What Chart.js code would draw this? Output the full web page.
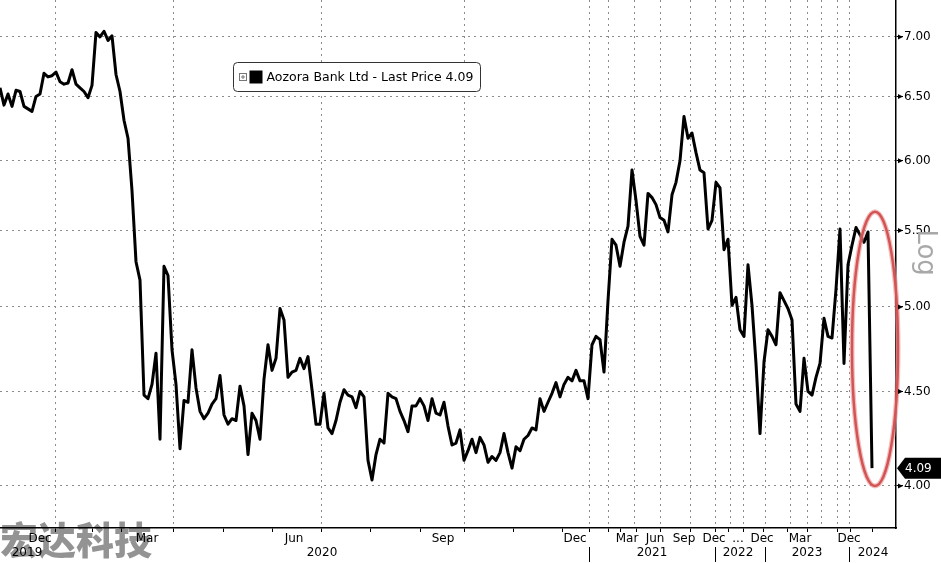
<!DOCTYPE html>
<html>
<head>
<meta charset="utf-8">
<script src="https://cdn.jsdelivr.net/npm/chart.js@4.4.1/dist/chart.umd.min.js"></script>
<style>
  html, body { margin: 0; padding: 0; background: #fff; }
</style>
</head>
<body>
<canvas id="chart" width="941" height="563"></canvas>
<script>
// one value per step of the (compressed) time axis
const prices = [
  6.57, 6.43, 6.52, 6.42, 6.55, 6.54, 6.42, 6.40, 6.38, 6.50,
  6.52, 6.69, 6.66, 6.67, 6.70, 6.62, 6.60, 6.61, 6.72, 6.60,
  6.57, 6.54, 6.49, 6.59, 7.04, 7.00, 7.05, 6.97, 7.01, 6.68,
  6.54, 6.31, 6.17, 5.78, 5.29, 5.17, 4.48, 4.46, 4.54, 4.72,
  4.24, 5.26, 5.20, 4.74, 4.54, 4.19, 4.45, 4.44, 4.74, 4.52,
  4.39, 4.35, 4.38, 4.43, 4.46, 4.59, 4.37, 4.32, 4.35, 4.34,
  4.53, 4.42, 4.16, 4.38, 4.34, 4.24, 4.57, 4.77, 4.62, 4.69,
  4.99, 4.92, 4.58, 4.61, 4.62, 4.69, 4.63, 4.70, 4.51, 4.32,
  4.32, 4.49, 4.30, 4.27, 4.34, 4.44, 4.51, 4.48, 4.47, 4.41,
  4.50, 4.47, 4.13, 4.03, 4.16, 4.24, 4.22, 4.49, 4.47, 4.46,
  4.39, 4.34, 4.28, 4.42, 4.42, 4.46, 4.42, 4.34, 4.46, 4.38,
  4.37, 4.44, 4.31, 4.21, 4.22, 4.29, 4.13, 4.18, 4.24, 4.17,
  4.25, 4.21, 4.12, 4.15, 4.13, 4.17, 4.27, 4.17, 4.09, 4.20,
  4.18, 4.24, 4.26, 4.30, 4.29, 4.46, 4.39, 4.44, 4.49, 4.55,
  4.47, 4.54, 4.58, 4.56, 4.62, 4.56, 4.56, 4.46, 4.77, 4.82,
  4.80, 4.61, 5.04, 5.44, 5.40, 5.26, 5.42, 5.53, 5.93, 5.71,
  5.46, 5.40, 5.76, 5.73, 5.68, 5.59, 5.57, 5.49, 5.75, 5.84,
  6.00, 6.34, 6.17, 6.21, 6.06, 5.93, 5.91, 5.51, 5.57, 5.84,
  5.80, 5.37, 5.44, 5.01, 5.06, 4.86, 4.82, 5.27, 5.01, 4.66,
  4.27, 4.67, 4.86, 4.82, 4.77, 5.09, 5.04, 4.99, 4.92, 4.43,
  4.39, 4.69, 4.50, 4.48, 4.58, 4.66, 4.93, 4.82, 4.81, 5.11,
  5.51, 4.66, 5.27, 5.40, 5.52, 5.47, 5.42, 5.49, 4.09
];

const seriesName = "Aozora Bank Ltd - Last Price";
const lastPrice = prices[prices.length - 1];

const priceTicks = [4.0, 4.5, 5.0, 5.5, 6.0, 6.5, 7.0];

// axis positions are in time-step units
const axisEnd = 224;
const monthLabels = ["Dec", "Mar", "Jun", "Sep", "Dec", "Mar", "Jun", "Sep", "Dec", "...", "Dec", "Mar", "Dec"];
const monthAt = [10, 36.75, 73.5, 110.75, 143.75, 156.75, 163.75, 171, 178.5, 184.5, 190.5, 200, 212.25];
const yearLabels = ["2019", "2020", "2021", "2022", "2023", "2024"];
const yearAt = [6.75, 80.5, 163, 184.5, 201.75, 218.25];
const yearBreaks = [147.25, 178.75, 191.25, 212.25];
const monthTicks = [13.75, 23, 30.5, 43.25, 55.75, 68, 80.25, 92.5, 105, 116, 128.25, 140.5,
  147.25, 152, 155, 159, 165, 172.5, 178.75, 182, 185.75, 190.75, 196.75, 201.75, 209.25, 212.5, 218];
const gridAt = [13.75, 43.25, 80.25, 116, 147.25, 152, 158.5, 165, 172.5, 178.75, 182.5, 185.75,
  191.25, 197.5, 201.75, 205.25, 209.25, 212.25];

// red ring drawn round the last move
const ring = { at: 218.75, halfWidth: 5.75, top: 5.63, bottom: 4.0 };
// where the "Log" note sits on the price axis
const scaleNoteAt = 5.35;

const xMarks = [...new Set([...monthTicks, ...gridAt])].sort((a, b) => a - b);
const yearTicks = yearAt.map((v, i) => ({ value: v, label: yearLabels[i] }))
  .concat(yearBreaks.map((v) => ({ value: v, label: "" })))
  .sort((a, b) => a.value - b.value);

const clear = "rgba(0,0,0,0)";
const gridGray = "#8c8c8c";

const overlay = {
  id: "overlay",
  beforeDraw(chart) {
    const { ctx, width, height } = chart;
    ctx.save();
    ctx.fillStyle = "#fff";
    ctx.fillRect(0, 0, width, height);
    ctx.font = '900 38px "Noto Sans CJK SC"';
    ctx.fillStyle = "rgba(120,120,120,0.8)";
    ctx.textBaseline = "top";
    ctx.fillText("宏达科技", 0, 521);
    ctx.restore();
  },
  afterDatasetsDraw(chart) {
    const { ctx, scales: { x, y } } = chart;
    const cx = x.getPixelForValue(ring.at);
    const rx = x.getPixelForValue(ring.at + ring.halfWidth) - cx;
    const yTop = y.getPixelForValue(ring.top);
    const yBot = y.getPixelForValue(ring.bottom);
    ctx.save();
    ctx.beginPath();
    ctx.ellipse(cx, (yTop + yBot) / 2, rx, (yBot - yTop) / 2, 0, 0, Math.PI * 2);
    ctx.strokeStyle = "rgba(232,150,150,0.6)";
    ctx.lineWidth = 5;
    ctx.stroke();
    ctx.strokeStyle = "rgb(212,84,84)";
    ctx.lineWidth = 2.5;
    ctx.stroke();
    ctx.restore();
  },
  afterDraw(chart) {
    const { ctx, chartArea, scales: { y }, width } = chart;
    ctx.save();

    // arrow heads on the price ticks
    ctx.fillStyle = "#000";
    y.ticks.forEach((t) => {
      const py = y.getPixelForValue(t.value);
      ctx.beginPath();
      ctx.moveTo(chartArea.right + 2, py - 2.5);
      ctx.lineTo(chartArea.right + 7, py);
      ctx.lineTo(chartArea.right + 2, py + 2.5);
      ctx.closePath();
      ctx.fill();
    });

    // last price tag
    const ly = y.getPixelForValue(lastPrice);
    const left = chartArea.right + 1;
    ctx.beginPath();
    ctx.moveTo(left, ly);
    ctx.lineTo(left + 8, ly - 10.5);
    ctx.lineTo(width, ly - 10.5);
    ctx.lineTo(width, ly + 10.5);
    ctx.lineTo(left + 8, ly + 10.5);
    ctx.closePath();
    ctx.fill();
    ctx.fillStyle = "#fff";
    ctx.font = '12px "DejaVu Sans"';
    ctx.textBaseline = "middle";
    ctx.fillText(lastPrice.toFixed(2), chartArea.right + 9, ly + 0.5);

    // scale type note
    ctx.save();
    ctx.translate(chartArea.right + 29, y.getPixelForValue(scaleNoteAt));
    ctx.rotate(Math.PI / 2);
    ctx.fillStyle = "#a8a8a8";
    ctx.font = '26px "DejaVu Sans"';
    ctx.textAlign = "center";
    ctx.textBaseline = "middle";
    ctx.fillText("Log", 0, 0);
    ctx.restore();

    // legend box
    const bx = chartArea.left + 233.5, by = 62.5, bw = 247, bh = 29;
    ctx.beginPath();
    ctx.roundRect(bx, by, bw, bh, 4);
    ctx.fillStyle = "#fff";
    ctx.fill();
    ctx.strokeStyle = "#333";
    ctx.lineWidth = 1;
    ctx.stroke();
    const my = by + bh / 2;
    ctx.strokeStyle = "#777";
    ctx.strokeRect(bx + 6, my - 3.5, 7, 7);
    ctx.beginPath();
    ctx.moveTo(bx + 7.5, my); ctx.lineTo(bx + 11.5, my);
    ctx.moveTo(bx + 9.5, my - 2); ctx.lineTo(bx + 9.5, my + 2);
    ctx.stroke();
    ctx.fillStyle = "#000";
    ctx.fillRect(bx + 16, my - 6.5, 13, 13);
    ctx.font = '12.5px "DejaVu Sans"';
    ctx.textBaseline = "middle";
    ctx.fillText(seriesName + " " + lastPrice.toFixed(2), bx + 33, my + 0.5);

    ctx.restore();
  }
};

new Chart(document.getElementById("chart"), {
  type: "line",
  data: {
    datasets: [{
      label: seriesName,
      data: prices.map((p, i) => ({ x: i, y: p })),
      borderColor: "#000",
      borderWidth: 3,
      borderJoinStyle: "round",
      pointRadius: 0,
      tension: 0,
      xAxisID: "x",
      yAxisID: "y"
    }]
  },
  options: {
    responsive: false,
    animation: false,
    layout: { padding: 0 },
    plugins: { legend: { display: false }, tooltip: { enabled: false } },
    font: { family: "DejaVu Sans" },
    scales: {
      x: {
        type: "linear", position: "bottom", min: 0, max: axisEnd,
        afterBuildTicks: (s) => { s.ticks = xMarks.map((v) => ({ value: v })); },
        afterFit: (s) => { s.height = 4; },
        ticks: { display: false },
        grid: {
          color: (c) => (c.tick && gridAt.includes(c.tick.value) ? gridGray : clear),
          tickColor: (c) => (c.tick && monthTicks.includes(c.tick.value) ? "#000" : clear),
          tickLength: 4,
          lineWidth: 1
        },
        border: { color: "#000", width: 1.5, dash: [2, 4] }
      },
      x2: {
        type: "linear", position: "bottom", min: 0, max: axisEnd,
        afterBuildTicks: (s) => { s.ticks = monthAt.map((v) => ({ value: v })); },
        afterFit: (s) => { s.height = 15; },
        ticks: {
          autoSkip: false, maxRotation: 0, padding: 0, color: "#000",
          font: { family: "DejaVu Sans", size: 12 },
          callback: (v, i) => monthLabels[i]
        },
        grid: { display: false, drawTicks: false },
        border: { display: false }
      },
      x3: {
        type: "linear", position: "bottom", min: 0, max: axisEnd,
        afterBuildTicks: (s) => { s.ticks = yearTicks.map((t) => ({ value: t.value })); },
        afterFit: (s) => { s.height = 16; },
        ticks: {
          autoSkip: false, maxRotation: 0, padding: -16, color: "#000",
          font: { family: "DejaVu Sans", size: 12 },
          callback: (v, i) => yearTicks[i].label
        },
        grid: {
          drawOnChartArea: false, tickLength: 15, lineWidth: 1,
          tickColor: (c) => (c.tick && yearBreaks.includes(c.tick.value) ? "#000" : clear)
        },
        border: { display: false }
      },
      y: {
        type: "logarithmic", position: "right", min: 3.796, max: 7.33,
        afterBuildTicks: (s) => { s.ticks = priceTicks.map((v) => ({ value: v })); },
        afterFit: (s) => { s.width = 45; s.paddingTop = 0; s.paddingBottom = 0; },
        ticks: {
          color: "#000", padding: 1,
          font: { family: "DejaVu Sans", size: 12 },
          callback: (v) => Number(v).toFixed(2)
        },
        grid: { color: gridGray, lineWidth: 1, tickLength: 7, tickColor: "#000" },
        border: { color: "#000", width: 1.5, dash: [2, 4] }
      }
    }
  },
  plugins: [overlay]
});
</script>
</body>
</html>
